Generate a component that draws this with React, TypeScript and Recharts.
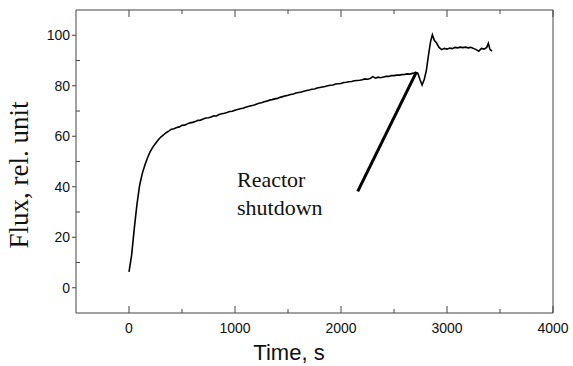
import { LineChart, Line, XAxis, YAxis, ReferenceLine } from 'recharts';

// Time (s) and flux (rel. unit)
const TIME = [
  0, 25, 50, 75, 100, 125, 150, 175, 200, 225, 250, 275, 300, 325, 350, 375,
  400, 425, 450, 475, 500, 525, 550, 575, 600, 625, 650, 675, 700, 725, 750, 775,
  800, 825, 850, 875, 900, 925, 950, 975, 1000, 1025, 1050, 1075, 1100, 1125, 1150, 1175,
  1200, 1225, 1250, 1275, 1300, 1325, 1350, 1375, 1400, 1425, 1450, 1475, 1500, 1525, 1550, 1575,
  1600, 1625, 1650, 1675, 1700, 1725, 1750, 1775, 1800, 1825, 1850, 1875, 1900, 1925, 1950, 1975,
  2000, 2025, 2050, 2075, 2100, 2125, 2150, 2175, 2200, 2225, 2250, 2275, 2300, 2325, 2350, 2375,
  2400, 2425, 2450, 2475, 2500, 2525, 2550, 2575, 2600, 2625, 2650, 2675, 2700, 2725, 2745, 2765,
  2785, 2805, 2825, 2845, 2862, 2880, 2900, 2925, 2950, 2975, 3000, 3025, 3050, 3075, 3100, 3125,
  3150, 3175, 3200, 3225, 3250, 3275, 3300, 3325, 3350, 3375, 3390, 3405, 3425,
];
const FLUX = [
  6.3, 13.0, 23.5, 33.0, 40.5, 45.2, 48.6, 51.5, 53.9, 55.7, 57.1, 58.5, 59.7, 60.5, 61.4, 62.0,
  62.8, 63.0, 63.5, 63.7, 64.3, 64.4, 64.9, 65.3, 65.5, 65.8, 66.3, 66.4, 66.8, 67.2, 67.3, 67.6,
  68.1, 68.0, 68.6, 68.9, 69.1, 69.4, 69.8, 69.9, 70.3, 70.6, 70.9, 71.1, 71.5, 71.8, 72.1, 72.3,
  72.7, 73.1, 73.3, 73.7, 73.9, 74.3, 74.5, 74.8, 75.0, 75.4, 75.7, 76.0, 76.2, 76.5, 76.7, 77.1,
  77.3, 77.5, 77.8, 78.1, 78.3, 78.6, 78.7, 79.1, 79.3, 79.5, 79.7, 80.0, 80.2, 80.3, 80.7, 80.8,
  80.9, 81.3, 81.4, 81.6, 81.7, 82.0, 82.1, 82.2, 82.4, 82.7, 82.6, 82.9, 83.6, 83.0, 83.4, 83.2,
  83.5, 83.7, 83.7, 84.0, 84.0, 84.2, 84.2, 84.4, 84.5, 84.7, 84.6, 84.9, 85.1, 85.0, 82.5, 80.3,
  82.5, 86.0, 92.0, 97.5, 100.2, 98.0, 97.0, 95.2, 94.3, 94.8, 94.5, 94.9, 94.7, 95.2, 95.0, 95.3,
  95.1, 95.3, 95.0, 95.2, 94.8, 94.3, 93.7, 94.8, 94.5, 95.2, 96.8, 94.4, 93.7,
];

const X_TICKS = [0, 500, 1000, 1500, 2000, 2500, 3000, 3500, 4000];
const Y_TICKS = [0, 10, 20, 30, 40, 50, 60, 70, 80, 90, 100];

// arrow pointing at the shutdown moment
const SHUTDOWN_FROM = { x: 2158, y: 38.2 };
const SHUTDOWN_TO = { x: 2712, y: 85.5 };

const data = TIME.map((t, i) => ({ t, flux: FLUX[i] }));

const AXIS = '#444';
const SANS = '"Liberation Sans", Arial, sans-serif';
const SERIF = '"Liberation Serif", "Times New Roman", serif';

const BottomTick = (props: any) => {
  const { x, y, payload } = props;
  const major = payload.value % 1000 === 0;
  return (
    <g>
      <line x1={x} x2={x} y1={y} y2={y - (major ? 7 : 4)} stroke={AXIS} />
      {major && (
        <text x={x} y={y + 20} textAnchor="middle" fontSize={14} fontFamily={SANS} fill="#111">
          {payload.value}
        </text>
      )}
    </g>
  );
};

const TopTick = (props: any) => {
  const { x, y, payload } = props;
  const major = payload.value % 1000 === 0;
  return <line x1={x} x2={x} y1={y} y2={y + (major ? 7 : 4)} stroke={AXIS} />;
};

const LeftTick = (props: any) => {
  const { x, y, payload } = props;
  const major = payload.value % 20 === 0;
  return (
    <g>
      {major ? (
        <line x1={x - 4} x2={x} y1={y} y2={y} stroke={AXIS} />
      ) : (
        <line x1={x} x2={x + 4} y1={y} y2={y} stroke={AXIS} />
      )}
      {major && (
        <text x={x - 6} y={y} dy="0.36em" textAnchor="end" fontSize={14} fontFamily={SANS} fill="#111">
          {payload.value}
        </text>
      )}
    </g>
  );
};

export default function App() {
  return (
    <div style={{ position: 'absolute', left: 0, top: 0, width: 573, height: 366, background: '#fff' }}>
      <LineChart width={573} height={366} data={data} margin={{ top: 9, right: 19, bottom: 52, left: 75 }}>
        <XAxis
          dataKey="t"
          type="number"
          domain={[-500, 4000]}
          ticks={X_TICKS}
          height={1}
          tickSize={0}
          tickMargin={0}
          tick={<BottomTick />}
          tickLine={false}
          stroke={AXIS}
          allowDataOverflow
        />
        <XAxis
          xAxisId="top"
          orientation="top"
          dataKey="t"
          type="number"
          domain={[-500, 4000]}
          ticks={X_TICKS}
          height={1}
          tickSize={0}
          tickMargin={0}
          tick={<TopTick />}
          tickLine={false}
          stroke={AXIS}
          allowDataOverflow
        />
        <YAxis
          type="number"
          domain={[-10, 110]}
          ticks={Y_TICKS}
          width={1}
          tickSize={0}
          tickMargin={0}
          tick={<LeftTick />}
          tickLine={false}
          stroke={AXIS}
          allowDataOverflow
        />
        <YAxis
          yAxisId="right"
          orientation="right"
          type="number"
          domain={[-10, 110]}
          width={1}
          tick={false}
          tickLine={false}
          stroke={AXIS}
          allowDataOverflow
        />
        <Line
          dataKey="flux"
          stroke="#000"
          strokeWidth={1.6}
          dot={false}
          isAnimationActive={false}
        />
        <ReferenceLine segment={[SHUTDOWN_FROM, SHUTDOWN_TO]} stroke="#000" strokeWidth={3} />
      </LineChart>
      <svg width={573} height={366} style={{ position: 'absolute', left: 0, top: 0, pointerEvents: 'none' }}>
        <text x={28} y={175} transform="rotate(-90 28 175)" textAnchor="middle" fontSize={27} fontFamily={SERIF} fill="#111">
          Flux, rel. unit
        </text>
        <text x={289} y={360} textAnchor="middle" fontSize={22} fontFamily={SANS} fill="#111">
          Time, s
        </text>
        <text x={237} y={187} fontSize={22} fontFamily={SERIF} fill="#111">Reactor</text>
        <text x={237} y={215} fontSize={22} fontFamily={SERIF} fill="#111">shutdown</text>
      </svg>
    </div>
  );
}
